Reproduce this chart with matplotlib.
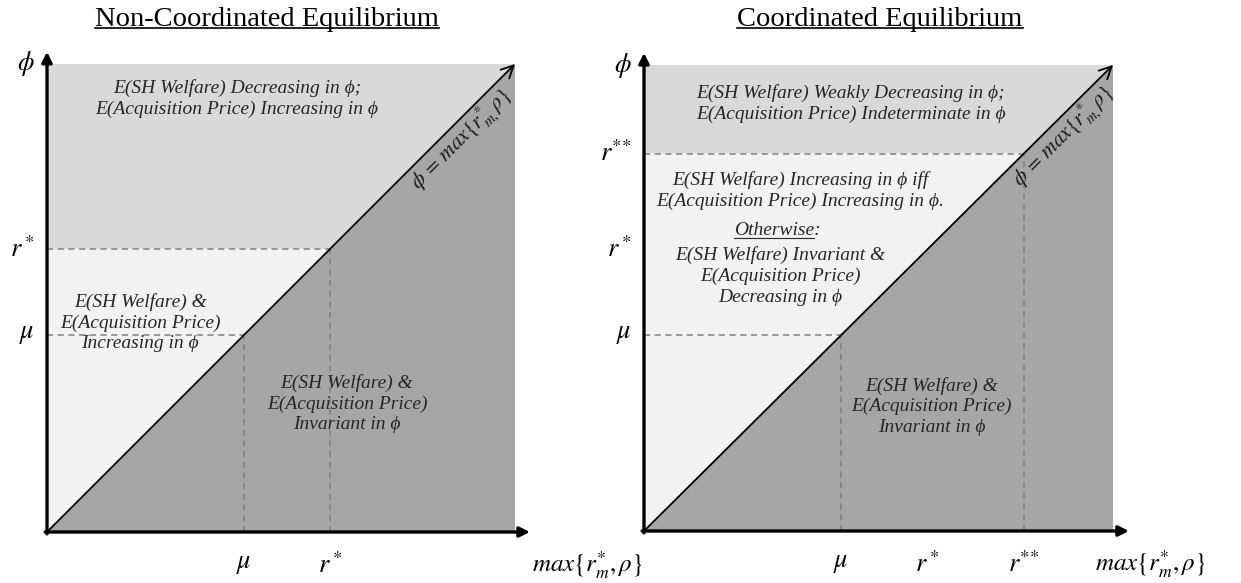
import matplotlib
matplotlib.use("Agg")
import matplotlib.pyplot as plt
from matplotlib.lines import Line2D
import matplotlib.transforms as mtransforms

plt.rcParams['mathtext.fontset'] = 'stix'
plt.rcParams['font.family'] = ['Liberation Serif', 'DejaVu Serif']

# ---- data (thresholds on the unit square) ----
mu = 0.42
r_star = 0.605
r_2star = 0.81

titles = ["Non-Coordinated Equilibrium", "Coordinated Equilibrium"]
x_label = r"$max\{r_m^{*},\rho\}$"
diag_label = r"$\phi\, =\, max\{r^{*}_{m,}\rho\}$"

left_ticks_x = [mu, r_star]
left_ticklabels_x = [r"$\mu$", r"$r^*$"]
left_ticks_y = [mu, r_star, 1.0]
left_ticklabels_y = [r"$\mu$", r"$r^*$", r"$\phi$"]

right_ticks_x = [mu, r_star, r_2star]
right_ticklabels_x = [r"$\mu$", r"$r^*$", r"$r^{*\!*}$"]
right_ticks_y = [mu, r_star, r_2star, 1.0]
right_ticklabels_y = [r"$\mu$", r"$r^*$", r"$r^{*\!*}$", r"$\phi$"]

left_texts = [
    "E(SH Welfare) Decreasing in ϕ;\nE(Acquisition Price) Increasing in ϕ",
    "E(SH Welfare) &\nE(Acquisition Price)\nIncreasing in ϕ",
    "E(SH Welfare) &\nE(Acquisition Price)\nInvariant in ϕ",
]
right_texts = [
    "E(SH Welfare) Weakly Decreasing in ϕ;\nE(Acquisition Price) Indeterminate in ϕ",
    "E(SH Welfare) Increasing in ϕ iff\nE(Acquisition Price) Increasing in ϕ.",
    "Otherwise:",
    "E(SH Welfare) Invariant &\nE(Acquisition Price)\nDecreasing in ϕ",
    "E(SH Welfare) &\nE(Acquisition Price)\nInvariant in ϕ",
]

C_TOP = "#d9d9d9"
C_MID = "#f2f2f2"
C_LOW = "#a6a6a6"
C_DASH = "#808080"

W, H = 1241, 583
fig = plt.figure(figsize=(W / 100, H / 100), dpi=100)

axL = fig.add_axes([47 / W, (H - 532) / H, 468 / W, 468 / H])
axR = fig.add_axes([644 / W, (H - 531) / H, 469 / W, 466 / H])

TXT = dict(style='italic', fontsize=14, ha='center', va='center',
           linespacing=1.26, color='#262626')
MATH_FS = 19


def base(ax, thr, x_arrow, y_arrow):
    ax.set_xlim(0, 1)
    ax.set_ylim(0, 1)
    ax.axis('off')
    # regions
    ax.fill([0, thr, 1, 0], [thr, thr, 1, 1], color=C_TOP, lw=0, zorder=1)
    ax.fill([0, thr, 0], [0, thr, thr], color=C_MID, lw=0, zorder=1)
    ax.fill([0, 1, 1], [0, 0, 1], color=C_LOW, lw=0, zorder=1)
    # diagonal with arrow
    ax.annotate("", xy=(1.0, 1.0), xytext=(0, 0),
                arrowprops=dict(arrowstyle="->", lw=1.3, color='black',
                                mutation_scale=22, shrinkA=0, shrinkB=0),
                zorder=4, annotation_clip=False)
    # axes arrows
    ax.annotate("", xy=(x_arrow, 0), xytext=(-0.004, 0),
                arrowprops=dict(arrowstyle="-|>", lw=2.4, color='black',
                                mutation_scale=15, shrinkA=0, shrinkB=0),
                zorder=5, annotation_clip=False)
    ax.annotate("", xy=(0, y_arrow), xytext=(0, -0.004),
                arrowprops=dict(arrowstyle="-|>", lw=2.4, color='black',
                                mutation_scale=15, shrinkA=0, shrinkB=0),
                zorder=5, annotation_clip=False)


def dashes(ax, vals):
    for v in vals:
        ax.plot([0, v], [v, v], ls=(0, (4, 3)), color=C_DASH, lw=1.1, zorder=3)
        ax.plot([v, v], [0, v], ls=(0, (4, 3)), color=C_DASH, lw=1.1, zorder=3)


def diag_text(ax, t):
    tr = mtransforms.offset_copy(ax.transData, fig=fig, x=8, y=-8, units='points')
    ax.text(t, t, diag_label, transform=tr, rotation=45, rotation_mode='anchor',
            ha='center', va='center', fontsize=15.5, zorder=6, color='#1a1a1a')


# ---- left panel ----
base(axL, r_star, 1.032, 1.026)
dashes(axL, [mu, r_star])
diag_text(axL, 0.862)
for v, lab in zip(left_ticks_x, left_ticklabels_x):
    axL.text(v, -0.07, lab, ha='center', va='center', fontsize=MATH_FS)
for v, lab in zip(left_ticks_y, left_ticklabels_y):
    axL.text(-0.026, v, lab, ha='right', va='center', fontsize=MATH_FS)
axL.text(1.036, -0.07, x_label, ha='left', va='center', fontsize=18)
axL.text(0.406, 0.927, left_texts[0], **TXT, zorder=6)
axL.text(0.199, 0.447, left_texts[1], **TXT, zorder=6)
axL.text(0.641, 0.274, left_texts[2], **TXT, zorder=6)

# ---- right panel ----
base(axR, r_2star, 1.034, 1.026)
dashes(axR, [mu, r_2star])
diag_text(axR, 0.87)
for v, lab in zip(right_ticks_x, right_ticklabels_x):
    axR.text(v, -0.07, lab, ha='center', va='center', fontsize=MATH_FS)
for v, lab in zip(right_ticks_y, right_ticklabels_y):
    axR.text(-0.026, v, lab, ha='right', va='center', fontsize=MATH_FS)
axR.text(0.961, -0.072, x_label, ha='left', va='center', fontsize=18)
axR.text(0.441, 0.918, right_texts[0], **TXT, zorder=6)
axR.text(0.333, 0.731, right_texts[1], **TXT, zorder=6)
t_other = axR.text(0.284, 0.644, right_texts[2], **TXT, zorder=6)
axR.text(0.290, 0.547, right_texts[3], **TXT, zorder=6)
axR.text(0.614, 0.268, right_texts[4], **TXT, zorder=6)

# ---- titles ----
tL = fig.text(267 / W, 1 - 20 / H, titles[0], ha='center', va='center', fontsize=20.5)
tR = fig.text(880 / W, 1 - 20 / H, titles[1], ha='center', va='center', fontsize=20.5)

# ---- underlines ----
fig.canvas.draw()
r = fig.canvas.get_renderer()
inv = fig.transFigure.inverted()


def underline(txt, frac, lw, upto=None):
    bb = txt.get_window_extent(renderer=r)
    x0, x1 = bb.x0, bb.x1
    if upto is not None:
        x1 = x0 + (x1 - x0) * upto
    y = bb.y0 + frac * bb.height
    (fx0, fy), (fx1, _) = inv.transform([(x0, y), (x1, y)])
    fig.add_artist(Line2D([fx0, fx1], [fy, fy], transform=fig.transFigure,
                          color=txt.get_color(), lw=lw))


underline(tL, 0.17, 1.2)
underline(tR, 0.17, 1.2)
underline(t_other, 0.10, 0.8, upto=0.93)

fig.savefig("out.png", dpi=100)
